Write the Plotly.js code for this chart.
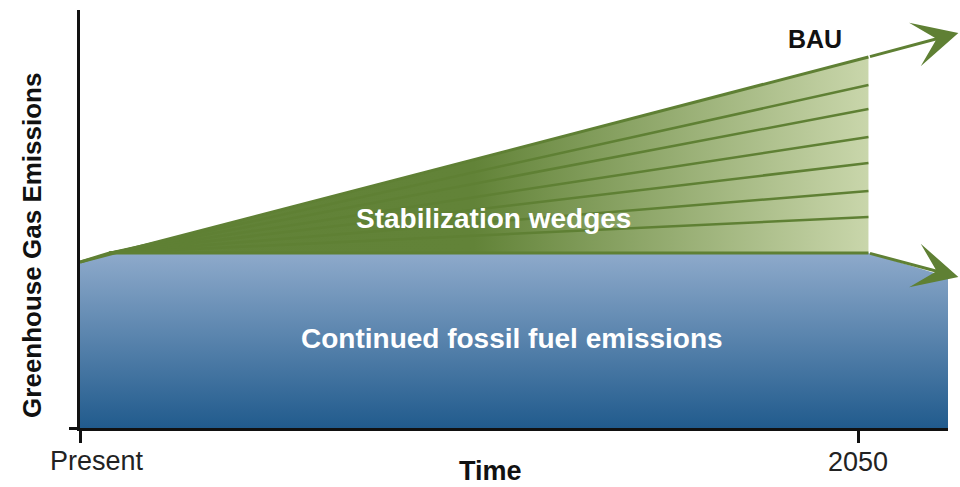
<!DOCTYPE html>
<html>
<head>
<meta charset="utf-8">
<script src="https://cdn.plot.ly/plotly-3.0.1.min.js"></script>
<style>html,body{margin:0;padding:0;background:#fff;}#chart{width:960px;height:487px;}</style>
</head>
<body>
<div id="chart"></div>
<script>
// ---- data (years on x, emissions in arbitrary units on y) ----
const tickYears = [2005, 2050];
const tickLabels = ['Present', '2050'];

// Continued fossil fuel emissions (flat path)
const fossilYears = [2005, 2006.7, 2050.6, 2055.4];
const fossilValues = [6.64, 7.0, 7.0, 6.0];
const fossilArrowTip = [2055.8, 6.04];

// Business-as-usual path
const bauYears = [2005, 2050.6];
const bauValues = [6.64, 14.84];
const bauArrowTip = [2055.8, 15.8];

// Boundaries between the stabilization wedges at the end year
const wedgeEndValues = [13.72, 12.76, 11.64, 10.6, 9.48, 8.44];

const FONT = 'Liberation Sans, Arial, Helvetica, sans-serif';
const GREEN = '#5f8034';

const traces = [];

// blue area: continued fossil fuel emissions
traces.push({
  x: [fossilYears[0]].concat(fossilYears, [fossilYears[fossilYears.length - 1], fossilYears[0]]),
  y: [0].concat(fossilValues, [0, 0]),
  mode: 'lines', line: {width: 0}, fill: 'toself', hoverinfo: 'skip',
  fillgradient: {type: 'vertical', start: 0, stop: fossilValues[1],
    colorscale: [[0, '#215b8d'], [1, '#8eaacb']]}
});

// green wedge triangle
traces.push({
  x: [bauYears[0], bauYears[1], bauYears[1], fossilYears[1]],
  y: [bauValues[0], bauValues[1], fossilValues[2], fossilValues[1]],
  mode: 'lines', line: {width: 0}, fill: 'toself', hoverinfo: 'skip',
  fillgradient: {type: 'horizontal', start: bauYears[0], stop: bauYears[1],
    colorscale: [[0, '#618237'], [0.5, '#628338'], [1, '#c9d6ab']]}
});

// wedge boundary lines (fan out from where the flat path begins)
wedgeEndValues.forEach(v => {
  traces.push({
    x: [fossilYears[1], bauYears[1]], y: [fossilValues[1], v],
    mode: 'lines', line: {color: GREEN, width: 2.5}, hoverinfo: 'skip'
  });
});

// BAU line
traces.push({x: bauYears, y: bauValues, mode: 'lines',
  line: {color: GREEN, width: 3}, hoverinfo: 'skip'});
// fossil top line
traces.push({x: fossilYears.slice(0, 3), y: fossilValues.slice(0, 3), mode: 'lines',
  line: {color: GREEN, width: 3}, hoverinfo: 'skip'});

const annotations = [
  // arrows
  {x: bauArrowTip[0], y: bauArrowTip[1], ax: bauYears[1], ay: bauValues[1],
   xref: 'x', yref: 'y', axref: 'x', ayref: 'y', text: '', showarrow: true,
   arrowhead: 3, arrowsize: 2.5, arrowwidth: 3, arrowcolor: GREEN},
  {x: fossilArrowTip[0], y: fossilArrowTip[1], ax: fossilYears[2], ay: fossilValues[2],
   xref: 'x', yref: 'y', axref: 'x', ayref: 'y', text: '', showarrow: true,
   arrowhead: 3, arrowsize: 2.5, arrowwidth: 3, arrowcolor: GREEN},
  // labels
  {x: 2047.5, y: 15.58, xref: 'x', yref: 'y', text: '<b>BAU</b>', showarrow: false,
   xanchor: 'center', yanchor: 'middle',
   font: {family: FONT, size: 25, color: '#111'}},
  {x: 2028.9, y: 8.4, xref: 'x', yref: 'y', text: '<b>Stabilization wedges</b>', showarrow: false,
   xanchor: 'center', yanchor: 'middle',
   font: {family: FONT, size: 28, color: '#fff'}},
  {x: 2030.0, y: 3.6, xref: 'x', yref: 'y', text: '<b>Continued fossil fuel emissions</b>', showarrow: false,
   xanchor: 'center', yanchor: 'middle',
   font: {family: FONT, size: 28, color: '#fff'}},
  {x: tickYears[0], xshift: 17, y: -0.079, xref: 'x', yref: 'paper', text: tickLabels[0], showarrow: false,
   xanchor: 'center', yanchor: 'middle',
   font: {family: FONT, size: 27, color: '#222'}},
  {x: 0.4724, y: -0.104, xref: 'paper', yref: 'paper', text: '<b>Time</b>', showarrow: false,
   xanchor: 'center', yanchor: 'middle',
   font: {family: FONT, size: 27, color: '#111'}},
  {x: -0.0553, y: 0.438, xref: 'paper', yref: 'paper', text: '<b>Greenhouse Gas Emissions</b>',
   xanchor: 'center', yanchor: 'middle',
   textangle: -90, showarrow: false, font: {family: FONT, size: 26, color: '#111'}}
];

const layout = {
  width: 960, height: 487,
  margin: {l: 80, r: 12, t: 10, b: 59},
  paper_bgcolor: '#fff', plot_bgcolor: '#fff',
  showlegend: false,
  xaxis: {range: [2005, 2055.2], showgrid: false, zeroline: false,
    showline: true, linecolor: '#111', linewidth: 3,
    tickmode: 'array', tickvals: tickYears, ticktext: ['', tickLabels[1]],
    ticks: 'outside', ticklen: 12, tickwidth: 3, tickcolor: '#111',
    ticklabelstandoff: -4,
    tickfont: {family: FONT, size: 27, color: '#222'}},
  yaxis: {range: [0, 16.72], showgrid: false, zeroline: false,
    showline: true, linecolor: '#111', linewidth: 3,
    tickmode: 'array', tickvals: [0], ticktext: [''],
    ticks: 'outside', ticklen: 8, tickwidth: 3, tickcolor: '#111'},
  annotations: annotations
};

Plotly.newPlot('chart', traces, layout, {displayModeBar: false, staticPlot: true});
</script>
</body>
</html>
